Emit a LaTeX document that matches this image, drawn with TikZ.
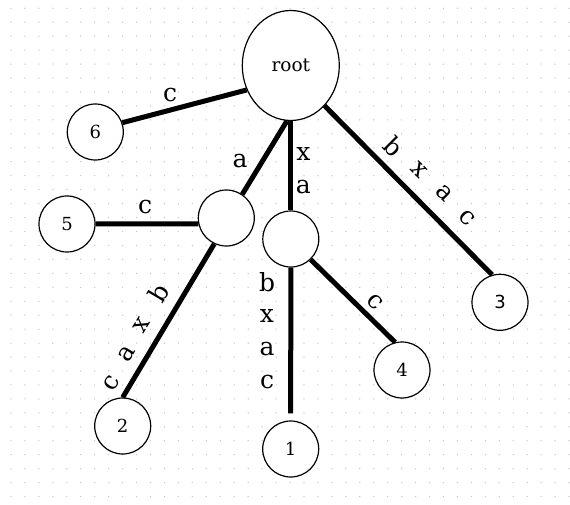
\documentclass[tikz,border=0pt]{standalone}
\usepackage{fontspec}
\setmainfont{DejaVu Serif}
\newfontfamily\leafsans{DejaVu Sans}
\usetikzlibrary{shapes.geometric}
\begin{document}
\begin{tikzpicture}[x=1pt, y=1pt,
    leaf/.style={circle, draw, fill=white, line width=1.2pt, minimum size=56pt,
      inner sep=0pt, font=\fontsize{18}{18}\selectfont},
    rootnode/.style={ellipse, draw, fill=white, line width=1.2pt, minimum width=97pt,
      minimum height=110pt, inner sep=0pt, font=\fontsize{18.5}{18.5}\selectfont},
    edge/.style={line width=5pt},
    lbl/.style={inner sep=0pt, font=\fontsize{25}{25}\selectfont}]
  \useasboundingbox (0,0) rectangle (570,504);
  % dot grid behind everything
  \foreach \i in {0,...,40}
    \foreach \j in {0,...,35}
      \fill[black!22] (11+13.95*\i, 495.7-13.95*\j) circle (0.75);
  % nodes of the suffix tree
  \node[rootnode] (root) at (290.8,438.5) {root};
  \node[leaf] (na)  at (226.3,286) {};
  \node[leaf] (nxa) at (290.8,265) {};
  \node[leaf] (n6)  at (95.3,372) {6};
  \node[leaf] (n5)  at (67,280) {5};
  \node[leaf] (n4)  at (402,134) {4};
  \node[leaf] (n3)  at (500,201.7) {\leafsans 3};
  \node[leaf] (n2)  at (122.7,78) {2};
  \node[leaf] (n1)  at (290.7,55) {1};
  % edges
  \draw[edge] (root.209) -- (n6.19);
  \draw[edge] (root.266) -- (na.56);
  \draw[edge] (root.south) -- (nxa.north);
  \draw[edge] (root.310) -- (n3.106);
  \draw[edge] (na.192) -- (n5.east);
  \draw[edge] (na.245) -- (n2.north);
  \draw[edge] (nxa.314) -- (n4.104);
  \draw[edge, shorten >=7pt] (nxa.south) -- (n1.north);
  % edge labels
  \node[lbl] (l6) at (170,409) {c};
  \node[lbl] (la) at (240,343) {a};
  \node[lbl] (lxa1) at (303.3,350) {x};
  \node[lbl] (lxa2) at (303.3,317) {a};
  \node[lbl] (l5) at (145,297) {c};
  \node[lbl, rotate=59] (l2b) at (158.3,210.7) {b};
  \node[lbl, rotate=59] (l2x) at (141.7,179) {x};
  \node[lbl, rotate=59] (l2a) at (126.7,150.7) {a};
  \node[lbl, rotate=59] (l2c) at (111.7,120.7) {c};
  \node[lbl] (l1b) at (267,222) {b};
  \node[lbl] (l1x) at (267,188) {x};
  \node[lbl] (l1a) at (267,155) {a};
  \node[lbl] (l1c) at (267,122.3) {c};
  \node[lbl, rotate=-45] (l4) at (375,202) {c};
  \node[lbl, rotate=-45] (l3b) at (394,357.3) {b};
  \node[lbl, rotate=-45] (l3x) at (419,334) {x};
  \node[lbl, rotate=-45] (l3a) at (444,310.7) {a};
  \node[lbl, rotate=-45] (l3c) at (466.7,286.5) {c};
\end{tikzpicture}
\end{document}
